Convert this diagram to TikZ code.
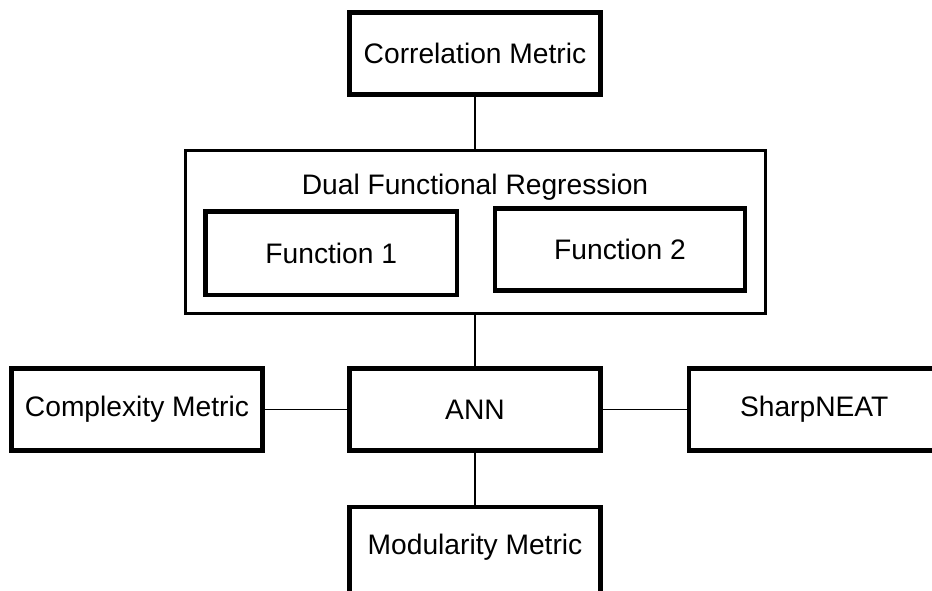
\documentclass[tikz,border=0pt]{standalone}
\usepackage{fontspec}
\setmainfont{Liberation Sans}
\begin{document}
\begin{tikzpicture}[x=1pt,y=-1pt,
  box/.style={draw=black, line width=4.5pt, fill=white, rectangle, inner sep=0pt,
    minimum width=251pt, minimum height=82pt, font=\fontsize{28.2}{32}\selectfont},
  frame/.style={draw=black, line width=3pt, rectangle, inner sep=0pt},
  lbl/.style={inner sep=0pt, font=\fontsize{28.2}{32}\selectfont},
  link/.style={draw=black, line width=1.3pt}]
\useasboundingbox (0,0) rectangle (932,590);
\clip (0,0) rectangle (932,590);
\fill[white] (0,0) rectangle (932,590);

% top metric
\node[box] (corr) at (475,53.5) {Correlation Metric};

% regression block with its two functions
\node[frame, minimum width=580pt, minimum height=163pt] (dfr) at (475,231.5) {};
\node[lbl] (dfrlabel) at (475,187) {Dual Functional Regression};
\node[box, minimum width=251.5pt, minimum height=83.5pt] (f1) at (331.25,253.25) {Function 1};
\node[box, minimum width=250pt, minimum height=82pt] (f2) at (620,249.5) {Function 2};

% network row
\node[box] (ann) at (475,409.5) {ANN};
\node[box] (cplx) at (137,409.5) {Complexity Metric};
\node[box] (sharp) at (814.25,409.5) {SharpNEAT};

% bottom metric, running past the lower edge
\node[box, minimum height=90pt] (mod) at (475,552) {};
\node[lbl] (modlabel) at (475,547.5) {Modularity Metric};

% connectors
\draw[link] (corr.south) -- (dfr.north);
\draw[link] (dfr.south) -- (ann.north);
\draw[link] (ann.south) -- (mod.north);
\draw[link] (cplx.east) -- (ann.west);
\draw[link] (ann.east) -- (sharp.west);
\end{tikzpicture}
\end{document}
